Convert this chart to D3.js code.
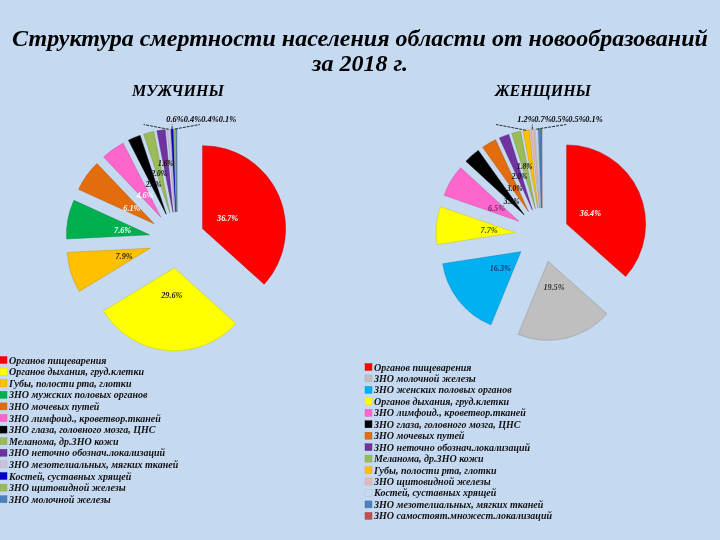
<!DOCTYPE html>
<html><head><meta charset="utf-8">
<script src="https://cdnjs.cloudflare.com/ajax/libs/d3/7.8.5/d3.min.js"></script>
<style>html,body{margin:0;padding:0;background:#c5d9f1;overflow:hidden}svg{display:block}text{font-family:"Liberation Serif",serif;font-weight:bold;font-style:italic}</style>
</head><body><svg id="c" width="720" height="540"></svg>
<script>
const titleLines = ["Структура смертности населения области от новообразований","за 2018 г."];
const menTitle = "МУЖЧИНЫ";
const womenTitle = "ЖЕНЩИНЫ";
const menCategories = ["Органов пищеварения","Органов дыхания, груд.клетки","Губы, полости рта, глотки","ЗНО мужских половых органов","ЗНО мочевых путей","ЗНО лимфоид., кроветвор.тканей","ЗНО глаза, головного мозга, ЦНС","Меланома, др.ЗНО кожи","ЗНО неточно обознач.локализаций","ЗНО мезотелиальных, мягких тканей","Костей, суставных хрящей","ЗНО щитовидной железы","ЗНО молочной железы"];
const menValues = [36.7,29.6,7.9,7.6,6.1,4.6,2.4,2.0,1.6,0.6,0.4,0.4,0.1];
const menColors = ["#ff0000","#ffff00","#ffc000","#00b050","#e36c0a","#ff66cc","#000000","#9bbb59","#7030a0","#ccc1da","#0000cc","#9bbb59","#4f81bd"];
const menLabelColors = ["#fff","#222","#222","#fff","#fff","#fff","#111","#111","#111"];
const womenCategories = ["Органов пищеварения","ЗНО молочной железы","ЗНО женских половых органов","Органов дыхания, груд.клетки","ЗНО лимфоид., кроветвор.тканей","ЗНО глаза, головного мозга, ЦНС","ЗНО мочевых путей","ЗНО неточно обознач.локализаций","Меланома, др.ЗНО кожи","Губы, полости рта, глотки","ЗНО щитовидной железы","Костей, суставных хрящей","ЗНО мезотелиальных, мягких тканей","ЗНО самостоят.множест.локализаций"];
const womenValues = [36.4,19.5,16.3,7.7,6.5,3.3,3.0,2.0,1.8,1.2,0.7,0.5,0.5,0.1];
const womenColors = ["#ff0000","#bfbfbf","#00b0f0","#ffff00","#ff66cc","#000000","#e36c0a","#7030a0","#9bbb59","#ffc000","#e6b9b8","#c6d9f0","#4f81bd","#c0504d"];
const womenLabelColors = ["#fff","#333","#1f3a6e","#444","#6b2a6b","#111","#111","#111","#111"];

const svg = d3.select("#c");
const defs = svg.append("defs");
defs.append("filter").attr("id","soft").append("feGaussianBlur").attr("stdDeviation",0.35);
const root = svg.append("g").attr("filter","url(#soft)");
root.append("rect").attr("width",720).attr("height",540).attr("fill","#c5d9f1");

root.selectAll("text.title").data(titleLines).join("text").attr("class","title")
  .attr("x",360).attr("y",(d,i)=>46+i*25).attr("text-anchor","middle").attr("font-size",24).text(d=>d);

function drawPie(cfg){
  const {cx,cy,r,off,values,colors,labelColors,cats,head,headX,topStart,topStep,leaderStep,legX,legY,legStep,tailN,ladderStart,ladderBase}=cfg;
  const g = root.append("g");
  g.append("text").attr("x",headX).attr("y",96).attr("text-anchor","middle").attr("font-size",16).text(head);
  const arcs = d3.pie().sort(null).value(d=>d)(values);
  const arc = d3.arc().innerRadius(0).outerRadius(r);
  const shift = d=>{const a=(d.startAngle+d.endAngle)/2;return [cx+off*Math.sin(a),cy-off*Math.cos(a)];};
  g.selectAll("path.slice").data(arcs).join("path").attr("class","slice")
    .attr("transform",d=>`translate(${shift(d)})`).attr("d",arc).attr("fill",(d,i)=>colors[i])
    .attr("stroke",(d,i)=>d3.color(colors[i]).darker(0.7)).attr("stroke-width",0.5);
  const n = values.length;
  const topX = d3.scaleLinear().domain([n-tailN,n-1]).range([topStart,topStart+topStep*(tailN-1)]);
  const pt = (d,k)=>{const a=(d.startAngle+d.endAngle)/2,s=shift(d);return [s[0]+k*Math.sin(a),s[1]-k*Math.cos(a)];};
  arcs.forEach((d,i)=>{
    const lab = values[i].toFixed(1)+"%";
    if(i>=n-tailN){
      const p = pt(d,r), x = topX(i), k = i-(n-tailN);
      if(k<3){
        const e = [p[0]+(k-1)*leaderStep,124.5];
        g.append("path").attr("d",d3.line()([p,e])).attr("stroke","#000").attr("stroke-width",0.8).attr("stroke-dasharray","3 1").attr("fill","none");
      }
      g.append("text").attr("x",x).attr("y",122).attr("text-anchor","middle").attr("font-size",8.4).text(lab);
    } else {
      const ladder = i>=ladderStart;
      const p = pt(d, ladder ? ladderBase+(i-ladderStart)*8.5 : r*0.33);
      g.append("text").attr("x",p[0]).attr("y",p[1]+3).attr("text-anchor","middle").attr("font-size",ladder?7.5:8.2)
       .attr("fill",labelColors[i]).text(lab);
    }
  });
  const yL = d3.scaleLinear().domain([0,1]).range([legY,legY+legStep]);
  cats.forEach((c,i)=>{
    g.append("rect").attr("x",legX).attr("y",yL(i)-4.5).attr("width",7).attr("height",7).attr("fill",colors[i])
      .attr("stroke",d3.color(colors[i]).darker(0.4)).attr("stroke-width",0.4);
    g.append("text").attr("x",legX+9).attr("y",yL(i)+2.5).attr("font-size",10).attr("fill","#111").text(c);
  });
}
drawPie({cx:177,cy:240,r:83,off:28,values:menValues,colors:menColors,labelColors:menLabelColors,cats:menCategories,head:menTitle,headX:178,topStart:175,topStep:17.5,leaderStep:25,legX:0,legY:361,legStep:11.6,tailN:4,ladderStart:6,ladderBase:33});
drawPie({cx:542,cy:235,r:79,off:27,values:womenValues,colors:womenColors,labelColors:womenLabelColors,cats:womenCategories,head:womenTitle,headX:543,topStart:526,topStep:17,leaderStep:30,legX:365,legY:368,legStep:11.45,tailN:5,ladderStart:5,ladderBase:19});
</script></body></html>
